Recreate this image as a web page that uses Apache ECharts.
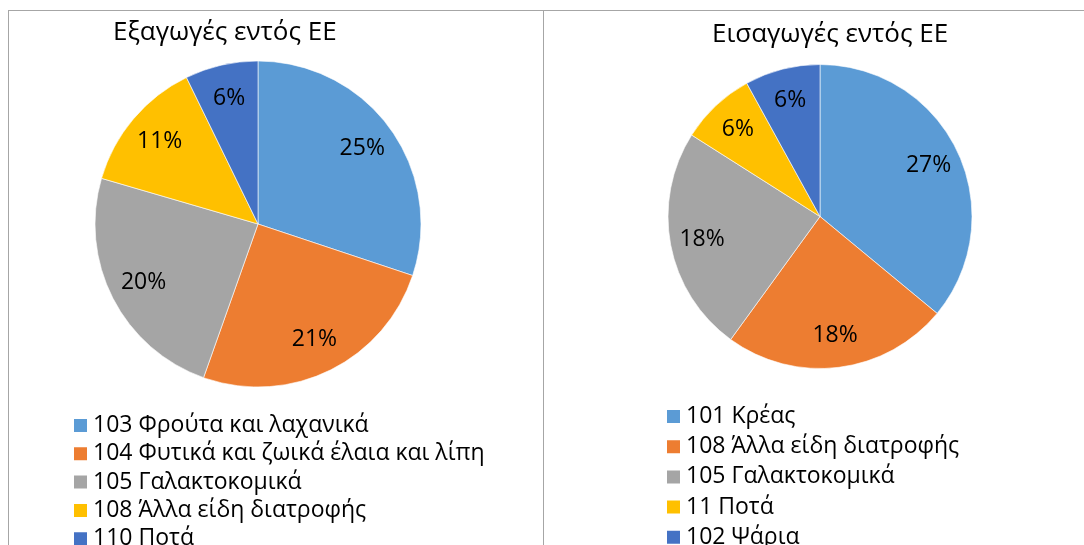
<!DOCTYPE html>
<html>
<head>
<meta charset="utf-8">
<script src="https://cdn.jsdelivr.net/npm/echarts@6/dist/echarts.min.js"></script>
<style>
    html, body { margin: 0; padding: 0; background: #fff; }
    .frame { position: absolute; border: 1.5px solid #a6a6a6; box-sizing: border-box; }
    .chart { position: absolute; top: 0; height: 545px; }
</style>
</head>
<body>
<div class="frame" style="left:8px; top:10px; width:536px; height:560px;"></div>
<div class="frame" style="left:543px; top:10px; width:560px; height:560px;"></div>
<div id="left" class="chart" style="left:0; width:544px;"></div>
<div id="right" class="chart" style="left:544px; width:540px;"></div>
<script>
// Εξαγωγές εντός ΕΕ
const exportNames = ['103 Φρούτα και λαχανικά', '104 Φυτικά και ζωικά έλαια και λίπη', '105 Γαλακτοκομικά', '108 Άλλα είδη διατροφής', '110 Ποτά']
const exportValues = [25, 21, 20, 11, 6]
// Εισαγωγές εντός ΕΕ
const importNames = ['101 Κρέας', '108 Άλλα είδη διατροφής', '105 Γαλακτοκομικά', '11 Ποτά', '102 Ψάρια']
const importValues = [27, 18, 18, 6, 6]

const colors = ['#5B9BD5', '#ED7D31', '#A5A5A5', '#FFC000', '#4472C4']
const font = '"Open Sans", "Noto Sans", sans-serif'

function buildOption(title, titleLeft, titleTop, names, values, center, radius, legendLeft, legendTop, legendGap) {
    let data = names.map((n, i) => ({ name: n, value: values[i] }))
    return {
        animation: false,
        color: colors,
        title: {
            text: title, left: titleLeft, top: titleTop, padding: 0,
            textStyle: { fontFamily: font, fontSize: 26, fontWeight: 'normal', color: '#000' }
        },
        legend: {
            orient: 'vertical', left: legendLeft, top: legendTop, height: 300, padding: 0,
            itemWidth: 15, itemHeight: 15, itemGap: legendGap, icon: 'rect',
            selectedMode: false,
            textStyle: { fontFamily: font, fontSize: 23, lineHeight: 23, color: '#000' },
            data: names
        },
        series: [
            {
                // the slices
                type: 'pie', center: center, radius: radius, startAngle: 90, clockwise: true,
                label: { show: false }, labelLine: { show: false }, silent: true,
                itemStyle: { borderColor: '#fff', borderWidth: 0.6 },
                data: data
            },
            {
                // transparent ring carrying the data labels further out
                type: 'pie', center: center, radius: [radius * 0.54, radius], startAngle: 90, clockwise: true,
                silent: true, legendHoverLink: false,
                itemStyle: { color: 'rgba(0,0,0,0)', borderWidth: 0 },
                label: {
                    show: true, position: 'inside', formatter: '{c}%',
                    fontFamily: font, fontSize: 23, color: '#000'
                },
                labelLine: { show: false },
                data: data
            }
        ]
    }
}

let leftChart = echarts.init(document.getElementById('left'))
leftChart.setOption(buildOption('Εξαγωγές εντός ΕΕ', 113, 20, exportNames, exportValues, [258, 224], 163, 72, 414, 5.3))

let rightChart = echarts.init(document.getElementById('right'))
rightChart.setOption(buildOption('Εισαγωγές εντός ΕΕ', 168, 22, importNames, importValues, [276, 216.5], 152, 121, 405, 7.2))
</script>
</body>
</html>
